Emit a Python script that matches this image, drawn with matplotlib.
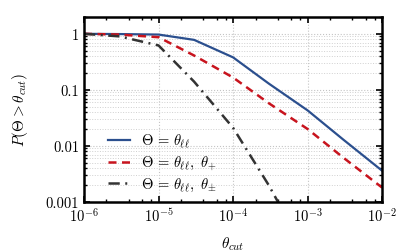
import numpy as np
import matplotlib
matplotlib.use("Agg")
import matplotlib.pyplot as plt
from matplotlib.ticker import LogLocator, FixedLocator, FixedFormatter, NullFormatter

plt.rcParams['mathtext.fontset'] = 'cm'
plt.rcParams['font.family'] = 'serif'
plt.rcParams['font.serif'] = ['cmr10', 'DejaVu Serif']
plt.rcParams['axes.formatter.use_mathtext'] = True

theta_cut = [1e-6, 3e-6, 1e-5, 3e-5, 1e-4, 3e-4, 1e-3, 3e-3, 1e-2]
p_ll = [1.0, 0.99, 0.97, 0.78, 0.38, 0.13, 0.043, 0.013, 0.0036]
p_ll_plus = [1.0, 0.97, 0.87, 0.41, 0.166, 0.058, 0.020, 0.0062, 0.0018]
p_ll_pm = [1.0, 0.90, 0.62, 0.14, 0.021, 0.0020, 0.00011, 0.00001, 0.000001]

labels = [r'$\Theta\,=\,\theta_{\ell\ell}$',
          r'$\Theta\,=\,\theta_{\ell\ell},\ \theta_{+}$',
          r'$\Theta\,=\,\theta_{\ell\ell},\ \theta_{\pm}$']

fig = plt.figure(figsize=(4.10, 2.53), dpi=100)
ax = fig.add_axes([0.205, 0.198, 0.727, 0.731])

ax.plot(theta_cut, p_ll, color='#2b4f8e', lw=1.6, label=labels[0])
ax.plot(theta_cut, p_ll_plus, color='#c8141e', lw=1.8, ls=(0, (3.2, 2.2)), label=labels[1])
ax.plot(theta_cut, p_ll_pm, color='#333333', lw=1.8, ls=(0, (4.5, 2.2, 0.8, 2.2)), label=labels[2])

ax.set_xscale('log')
ax.set_yscale('log')
ax.set_xlim(1e-6, 1e-2)
ax.set_ylim(1e-3, 2.0)

ax.yaxis.set_major_locator(FixedLocator([1e-3, 1e-2, 1e-1, 1]))
ax.yaxis.set_major_formatter(FixedFormatter(['0.001', '0.01', '0.1', '1']))
ax.yaxis.set_minor_locator(LogLocator(base=10, subs=np.arange(2, 10)))
ax.yaxis.set_minor_formatter(NullFormatter())
ax.xaxis.set_major_locator(LogLocator(base=10, numticks=10))
ax.xaxis.set_minor_locator(LogLocator(base=10, subs=[2, 4, 6, 8], numticks=20))
ax.xaxis.set_minor_formatter(NullFormatter())

ax.grid(True, which='major', axis='both', ls=':', color='#c4c4c4', lw=0.8)
ax.grid(True, which='minor', axis='y', ls=':', color='#d0d0d0', lw=0.7)

ax.tick_params(which='both', direction='in', top=True, right=True, labelsize=10.5)
ax.tick_params(which='major', length=4, width=1.2)
ax.tick_params(which='minor', length=2.5, width=1.0)
for s in ax.spines.values():
    s.set_linewidth(1.8)

ax.set_xlabel(r'$\theta_{cut}$', fontsize=11, labelpad=7)
ax.set_ylabel(r'$P(\Theta > \theta_{cut})$', fontsize=11, labelpad=11)

ax.legend(loc='lower left', frameon=False, fontsize=10.5, handlelength=1.55,
          handletextpad=0.75, bbox_to_anchor=(0.035, -0.025),
          labelspacing=0.25)

fig.savefig('out.png', dpi=100)
